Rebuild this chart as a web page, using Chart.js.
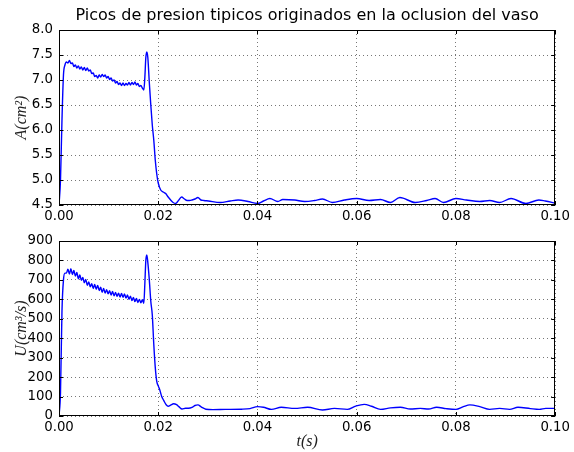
<!DOCTYPE html>
<html>
<head>
<meta charset="utf-8">
<script src="https://cdn.jsdelivr.net/npm/chart.js@4.4.0/dist/chart.umd.min.js"></script>
<style>
  body { margin: 0; background: #fff; }
  canvas { position: absolute; left: 0; }
  #graficaA { top: 0; }
  #graficaU { top: 225px; }
</style>
</head>
<body>
<canvas id="graficaA" width="574" height="225"></canvas>
<canvas id="graficaU" width="574" height="227"></canvas>
<script>
// tiempos comunes: subida, meseta con ruido y pico
const tiempoInicio = [0, 0.0003, 0.0006, 0.0009, 0.0012,
  0.0015, 0.0018, 0.0021, 0.0024, 0.0027, 0.0030, 0.0033, 0.0036, 0.0039, 0.0042,
  0.0045, 0.0048, 0.0051, 0.0054, 0.0057, 0.0060, 0.0063, 0.0066, 0.0069, 0.0072,
  0.0075, 0.0078, 0.0081, 0.0084, 0.0087, 0.0090, 0.0093, 0.0096, 0.0099, 0.0102,
  0.0105, 0.0108, 0.0111, 0.0114, 0.0117, 0.0120, 0.0123, 0.0126, 0.0129, 0.0132,
  0.0135, 0.0138, 0.0141, 0.0144, 0.0147, 0.0150, 0.0153, 0.0156, 0.0159, 0.0162,
  0.0165, 0.0168, 0.0171,
  0.0173, 0.0175, 0.0177, 0.0179, 0.0182, 0.0185, 0.0188, 0.0191, 0.0194, 0.0197, 0.0200];

const areaInicio = [4.50, 5.00, 6.20, 7.10, 7.30,
  7.36, 7.34, 7.39, 7.33, 7.34, 7.27, 7.30, 7.24, 7.28, 7.22,
  7.26, 7.20, 7.25, 7.19, 7.24, 7.18, 7.20, 7.13, 7.14, 7.07,
  7.09, 7.04, 7.10, 7.06, 7.11, 7.07, 7.10, 7.04, 7.07, 7.01,
  7.04, 6.98, 7.00, 6.94, 6.97, 6.91, 6.94, 6.89, 6.94, 6.89,
  6.93, 6.90, 6.95, 6.90, 6.95, 6.91, 6.96, 6.90, 6.93, 6.87,
  6.89, 6.84, 6.80,
  7.05, 7.45, 7.56, 7.45, 6.95, 6.50, 6.10, 5.80, 5.40, 5.12, 4.94];

const caudalInicio = [0, 120, 540, 700, 735,
  735, 755, 730, 758, 728, 748, 720, 738, 705, 725,
  698, 712, 685, 702, 672, 690, 664, 680, 656, 676,
  652, 672, 645, 662, 636, 656, 632, 650, 628, 644,
  622, 640, 618, 636, 615, 632, 612, 630, 610, 628,
  606, 622, 600, 616, 594, 610, 588, 604, 584, 600,
  582, 598, 580,
  680, 800, 828, 790, 700, 590, 520, 370, 250, 178, 155];

// cola de A
const tiempoFinA = [0.0205, 0.0210, 0.0215, 0.0220, 0.0225, 0.0230, 0.0235, 0.0240, 0.0247, 0.0253,
  0.0258, 0.0263, 0.0268, 0.0274, 0.0280, 0.0286, 0.0292, 0.0301, 0.0325, 0.0345,
  0.0361, 0.0381, 0.0400, 0.0412, 0.0425, 0.0441, 0.0451, 0.0475, 0.0495, 0.0515,
  0.0531, 0.0551, 0.0575, 0.0600, 0.0625, 0.0648, 0.0668, 0.0687, 0.0718, 0.0741,
  0.0758, 0.0775, 0.0800, 0.0821, 0.0848, 0.0868, 0.0888, 0.0911, 0.0941, 0.0967,
  0.0980, 0.1000];
const areaFin = [4.80, 4.76, 4.73, 4.66, 4.60, 4.55, 4.53, 4.58, 4.66, 4.62,
  4.59, 4.59, 4.60, 4.62, 4.65, 4.60, 4.59, 4.58, 4.55, 4.58,
  4.60, 4.57, 4.53, 4.58, 4.63, 4.57, 4.61, 4.60, 4.57, 4.59,
  4.62, 4.55, 4.60, 4.63, 4.59, 4.61, 4.55, 4.65, 4.55, 4.59,
  4.63, 4.55, 4.63, 4.60, 4.57, 4.59, 4.55, 4.63, 4.53, 4.60,
  4.58, 4.54];

// cola de U
const tiempoFinU = [0.0203, 0.0207, 0.0211, 0.0216, 0.0220, 0.0225, 0.0231, 0.0237, 0.0242, 0.0248,
  0.0255, 0.0261, 0.0268, 0.0274, 0.0280, 0.0287, 0.0296, 0.0310, 0.0335, 0.0368,
  0.0385, 0.0400, 0.0412, 0.0428, 0.0448, 0.0475, 0.0501, 0.0531, 0.0555, 0.0581,
  0.0598, 0.0615, 0.0630, 0.0648, 0.0668, 0.0688, 0.0708, 0.0728, 0.0745, 0.0761,
  0.0780, 0.0800, 0.0815, 0.0828, 0.0848, 0.0868, 0.0888, 0.0908, 0.0925, 0.0950,
  0.0968, 0.0981, 0.1000];
const caudalFin = [135, 100, 80, 58, 50, 56, 63, 58, 47, 36,
  40, 40, 44, 54, 57, 46, 35, 33, 34, 35,
  38, 48, 45, 34, 45, 39, 45, 31, 39, 34,
  51, 60, 50, 34, 42, 45, 36, 39, 36, 45,
  38, 34, 48, 57, 48, 34, 39, 34, 45, 38,
  34, 39, 39];

const puntos = (xs, ys) => xs.map((x, i) => ({ x, y: ys[i] }));

// marco negro y marcas hacia dentro, como matplotlib clasico
const marco = {
  id: 'marco',
  afterDraw(chart) {
    const { ctx, chartArea: a, scales } = chart;
    ctx.save();
    ctx.strokeStyle = '#000';
    ctx.lineWidth = 1;
    ctx.beginPath();
    scales.x.ticks.forEach(t => {
      const px = Math.round(scales.x.getPixelForValue(t.value)) + 0.5;
      ctx.moveTo(px, a.bottom); ctx.lineTo(px, a.bottom - 4);
      ctx.moveTo(px, a.top); ctx.lineTo(px, a.top + 4);
    });
    scales.y.ticks.forEach(t => {
      const py = Math.round(scales.y.getPixelForValue(t.value)) + 0.5;
      ctx.moveTo(a.left, py); ctx.lineTo(a.left + 4, py);
      ctx.moveTo(a.right, py); ctx.lineTo(a.right - 4, py);
    });
    ctx.stroke();
    ctx.strokeRect(Math.round(a.left) + 0.5, Math.round(a.top) + 0.5,
      Math.round(a.width) - 1, Math.round(a.height) - 1);
    ctx.restore();
  }
};

const fuenteTicks = { family: 'DejaVu Sans', size: 13.3 };
const rejilla = { color: '#777', lineWidth: 1, drawTicks: false };
const bordeEje = { display: false, dash: [1, 3] };

function crearGrafica(id, datos, yMin, yMax, paso, decimales, tituloY, extra) {
  const ctx = document.getElementById(id).getContext('2d');
  return new Chart(ctx, {
    type: 'line',
    data: {
      datasets: [{
        data: datos,
        borderColor: '#0000ff',
        borderWidth: 1.4,
        pointRadius: 0,
        cubicInterpolationMode: 'monotone',
        fill: false
      }]
    },
    options: {
      responsive: false,
      animation: false,
      layout: { padding: extra.padding },
      plugins: {
        legend: { display: false },
        tooltip: { enabled: false },
        title: extra.titulo
      },
      scales: {
        x: {
          type: 'linear', min: 0, max: 0.1,
          grid: rejilla,
          border: bordeEje,
          ticks: { stepSize: 0.02, color: '#000', font: fuenteTicks, padding: 4, maxRotation: 0,
            callback: v => v.toFixed(2) },
          title: extra.tituloX,
          afterFit: s => { s.height = extra.altoX; }
        },
        y: {
          min: yMin, max: yMax,
          grid: rejilla,
          border: bordeEje,
          ticks: { stepSize: paso, color: '#000', font: fuenteTicks, padding: 6,
            callback: v => v.toFixed(decimales) },
          title: { display: true, text: tituloY, color: '#222',
            font: { family: 'Liberation Serif', size: 16, style: 'italic' },
            padding: { top: 12, bottom: 0 } },
          afterFit: s => { s.width = 59; }
        }
      }
    },
    plugins: [marco]
  });
}

crearGrafica('graficaA', puntos(tiempoInicio.concat(tiempoFinA), areaInicio.concat(areaFin)),
  4.5, 8.0, 0.5, 1, 'A(cm²)', {
    padding: { left: 0, right: 15, top: 0, bottom: 0 },
    altoX: 20,
    titulo: { display: true, fullSize: false,
      text: 'Picos de presion tipicos originados en la oclusion del vaso',
      color: '#000', font: { family: 'DejaVu Sans', size: 16, weight: 'normal' },
      padding: { top: 6, bottom: 4.8 } },
    tituloX: { display: false }
  });

crearGrafica('graficaU', puntos(tiempoInicio.concat(tiempoFinU), caudalInicio.concat(caudalFin)),
  0, 900, 100, 0, 'U(cm³/s)', {
    padding: { left: 0, right: 15, top: 16, bottom: 0 },
    altoX: 36,
    titulo: { display: false },
    tituloX: { display: true, text: 't(s)', color: '#222',
      font: { family: 'Liberation Serif', size: 16, style: 'italic' },
      padding: { top: 0, bottom: 1 } }
  });
</script>
</body>
</html>
